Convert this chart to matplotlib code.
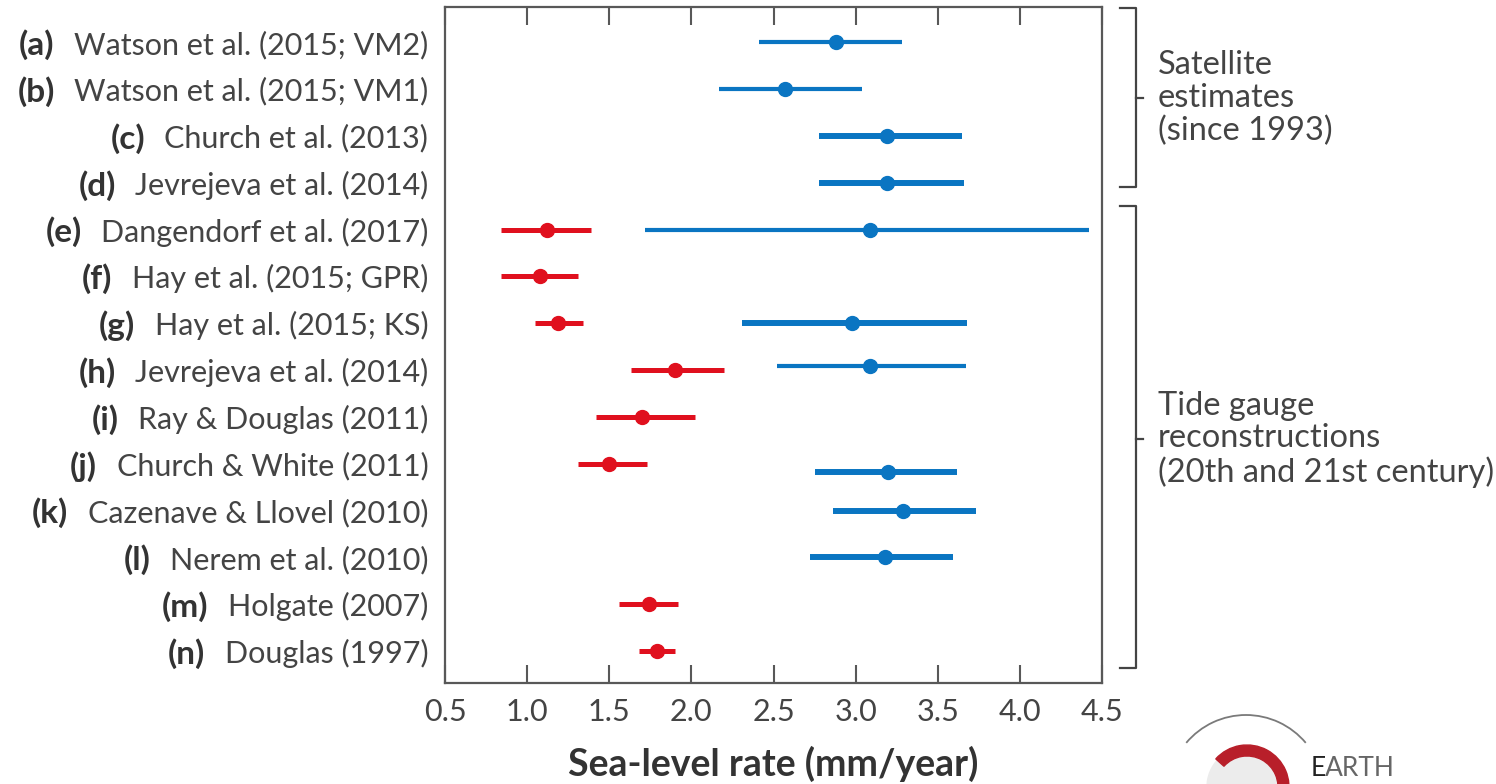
import numpy as np
import matplotlib
matplotlib.use("Agg")
import matplotlib.pyplot as plt
from matplotlib.lines import Line2D
from matplotlib.patches import Arc, Wedge, Circle

FONT = "Lato"
plt.rcParams['font.family'] = [FONT, 'DejaVu Sans']

# ---------------- data ----------------
letters = ['a', 'b', 'c', 'd', 'e', 'f', 'g', 'h', 'i', 'j', 'k', 'l', 'm', 'n']
names = ['Watson et al. (2015; VM2)', 'Watson et al. (2015; VM1)',
         'Church et al. (2013)', 'Jevrejeva et al. (2014)',
         'Dangendorf et al. (2017)', 'Hay et al. (2015; GPR)',
         'Hay et al. (2015; KS)', 'Jevrejeva et al. (2014)',
         'Ray & Douglas (2011)', 'Church & White (2011)',
         'Cazenave & Llovel (2010)', 'Nerem et al. (2010)',
         'Holgate (2007)', 'Douglas (1997)']
nan = np.nan
# blue: since 1993
blue_mid = [2.88, 2.57, 3.19, 3.19, 3.09, nan, 2.98, 3.09, nan, 3.20, 3.29, 3.18, nan, nan]
blue_lo = [2.41, 2.17, 2.78, 2.78, 1.72, nan, 2.31, 2.52, nan, 2.75, 2.86, 2.72, nan, nan]
blue_hi = [3.28, 3.04, 3.65, 3.66, 4.42, nan, 3.68, 3.67, nan, 3.62, 3.73, 3.59, nan, nan]
# red: 20th century
red_mid = [nan, nan, nan, nan, 1.12, 1.08, 1.19, 1.90, 1.70, 1.50, nan, nan, 1.74, 1.79]
red_lo = [nan, nan, nan, nan, 0.84, 0.84, 1.05, 1.63, 1.42, 1.31, nan, nan, 1.56, 1.68]
red_hi = [nan, nan, nan, nan, 1.39, 1.31, 1.34, 2.20, 2.02, 1.73, nan, nan, 1.92, 1.90]
x_ticks = [0.5, 1.0, 1.5, 2.0, 2.5, 3.0, 3.5, 4.0, 4.5]
x_label = 'Sea-level rate (mm/year)'
group_labels = ['Satellite\nestimates\n(since 1993)',
                'Tide gauge\nreconstructions\n(20th and 21st century)']

# ---------------- style ----------------
BLUE = '#0a75c2'
RED = '#e0101e'
GRAY = '#585858'
TXT = '#444444'
blue_lw = [3.0, 3.0, 4.3, 4.3, 3.0, 4.3, 4.3, 3.0, 4.3, 4.3, 4.3, 4.3, 4.3, 4.3]
blue_dy = [0, 0, 0, 0, 0, 0, 0, -0.09, 0, 0.17, 0, 0, 0, 0]

fig = plt.figure(figsize=(14.96, 7.84), dpi=100)
ax = fig.add_axes([445 / 1496, 1 - 683 / 784, (1102 - 445) / 1496, (683 - 7) / 784])

y = np.arange(len(letters), dtype=float)
bm, bl, bh = map(np.array, (blue_mid, blue_lo, blue_hi))
rm, rl, rh = map(np.array, (red_mid, red_lo, red_hi))
yb = y + np.array(blue_dy)

ok = ~np.isnan(bm)
ax.hlines(yb[ok], bl[ok], bh[ok], colors=BLUE, linewidths=np.array(blue_lw)[ok],
          capstyle='butt', zorder=2)
ax.plot(bm[ok], yb[ok], 'o', color=BLUE, ms=10, zorder=3)
ok = ~np.isnan(rm)
ax.hlines(y[ok], rl[ok], rh[ok], colors=RED, linewidths=3.6, capstyle='butt', zorder=2)
ax.plot(rm[ok], y[ok], 'o', color=RED, ms=10, zorder=3)

ax.set_xlim(0.5, 4.5)
ax.set_ylim(13.68, -0.75)
ax.set_xticks(x_ticks)
ax.set_xticklabels([f'{v:.1f}' for v in x_ticks])
ax.tick_params(axis='x', direction='in', length=13, width=1.5, color=GRAY,
               top=True, labelsize=22, labelcolor=TXT, pad=11)
ax.set_yticks(y)
ax.set_yticklabels(names)
ax.tick_params(axis='y', length=0, labelsize=22, labelcolor=TXT, pad=12)
for s in ax.spines.values():
    s.set_color(GRAY)
    s.set_linewidth(1.6)
ax.set_xlabel(x_label, fontsize=27, fontweight='bold', color='#333333', labelpad=14)

# bold panel letters placed just left of each name
fig.canvas.draw()
for lab, letter in zip(ax.get_yticklabels(), letters):
    ax.annotate(f'({letter})', xy=(0, 0.5), xycoords=lab, xytext=(-14, 0),
                textcoords='offset points', ha='right', va='center',
                fontsize=24, fontweight='bold', color='#333333',
                annotation_clip=False)

# ---------------- brackets ----------------
def bracket(y0, y1, ymid, label):
    tr = ax.get_yaxis_transform()
    kw = dict(color='#444444', lw=1.6, transform=tr, clip_on=False)
    xb, xe, xt = 1.051, 1.028, 1.063
    ax.add_line(Line2D([xe, xb, xb, xe], [y0, y0, y1, y1], **kw))
    ax.add_line(Line2D([xb, xt], [ymid, ymid], **kw))
    ax.text(1.085, ymid, label, transform=tr, ha='left', va='center',
            fontsize=23.5, color=TXT, linespacing=1.12)

bracket(-0.72, 3.1, 1.2, group_labels[0])
bracket(3.5, 13.35, 8.48, group_labels[1])

# ---------------- partial logo (publisher mark, cropped) ----------------
lax = fig.add_axes([0, 0, 1, 1], facecolor='none')
lax.set_xlim(0, 1496)
lax.set_ylim(0, 784)
lax.axis('off')
H = 784
lax.add_patch(Arc((1246, H - 793), 156, 156, theta1=40, theta2=140,
                  color='#7a7a7a', lw=1.3))
lax.add_patch(Circle((1247, H - 787), 40, color='#ececec', zorder=1))
lax.add_patch(Wedge((1247, H - 787), 42, -15, 138, width=11, color='#b81f2a', zorder=2))
lax.text(1311, H - 768, 'E', fontsize=19, color='#222222', va='center', ha='left')
lax.text(1325, H - 768, 'ARTH', fontsize=19, color='#666666', va='center', ha='left')

fig.savefig('out.png', dpi=100, facecolor='white')
